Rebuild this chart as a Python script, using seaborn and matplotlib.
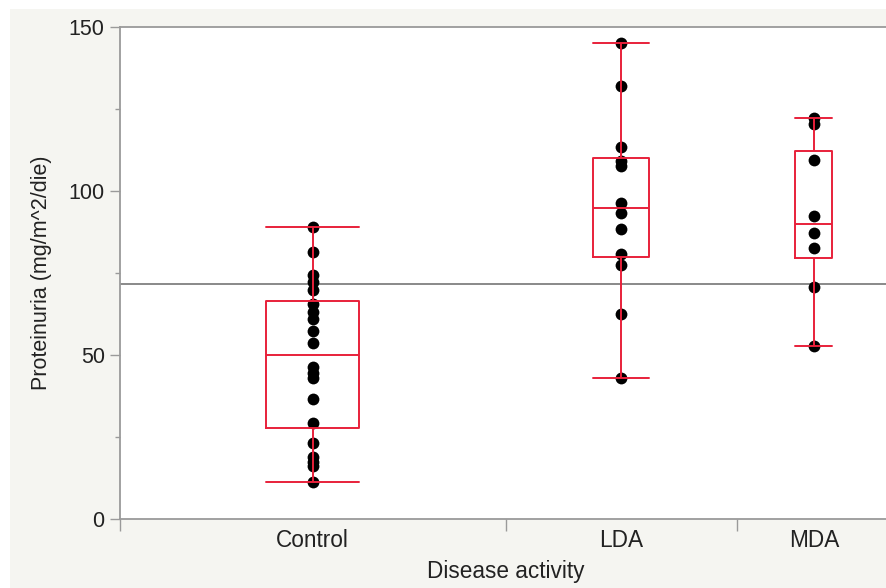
import numpy as np
import pandas as pd
import seaborn as sns
import matplotlib.pyplot as plt
from matplotlib.patches import Rectangle
from matplotlib.ticker import FixedLocator

# values (mg/m^2/die)
groups = ["Control", "LDA", "MDA"]
control = [89.1, 81.5, 74.4, 72.3, 69.8, 65.5, 63.2, 61.0, 57.3, 53.6,
           46.4, 44.6, 42.9, 36.5, 29.4, 23.2, 18.9, 17.5, 16.2, 11.2]
lda = [145.2, 132.0, 113.5, 109.0, 107.5, 96.2, 93.4, 88.3, 80.8, 77.4,
       62.5, 42.9]
mda = [122.2, 120.4, 109.5, 92.4, 87.3, 82.7, 70.8, 52.7]
y_ticks = [0, 50, 100, 150]
y_minor = [25, 75, 125]

RED = "#e8203a"
GREY = "#9a9a9a"
BG = "#f5f5f1"


def build_frame():
    # category width on the x axis is proportional to group size (JMP style)
    sizes = [len(control), len(lda), len(mda)]
    edges = np.concatenate([[0], np.cumsum(sizes)])
    centers = (edges[:-1] + edges[1:]) / 2
    rows = []
    for name, vals, pos in zip(groups, [control, lda, mda], centers):
        for v in vals:
            rows.append({"group": name, "pos": pos, "value": v})
    return pd.DataFrame(rows), edges, centers


def main():
    df, edges, centers = build_frame()

    sns.set_theme(style="white")
    plt.rcParams["font.family"] = ["Liberation Sans", "DejaVu Sans"]

    fig = plt.figure(figsize=(8.86, 5.88), dpi=100)
    fig.patch.set_facecolor("white")
    fig.patches.append(Rectangle((10 / 886, 0), 1, 1 - 9 / 588,
                                 transform=fig.transFigure, facecolor=BG,
                                 edgecolor="none", zorder=-10))
    ax = fig.add_axes([120 / 886, 69 / 588, 771 / 886, 492 / 588])
    ax.set_facecolor("white")

    sns.stripplot(data=df, x="pos", y="value", native_scale=True,
                  jitter=False, color="black", size=8.5, linewidth=0,
                  zorder=2, ax=ax)

    for name in groups:
        sub = df[df["group"] == name]
        w = 0.24 * len(sub)
        sns.boxplot(data=sub, x="pos", y="value", native_scale=True,
                    width=w, fill=False, color=RED, linewidth=1.4,
                    fliersize=0, capwidths=w, zorder=3, ax=ax)

    # grand mean line
    ax.axhline(df["value"].mean(), color="#808080", lw=1.3, zorder=1)

    ax.set_xlim(edges[0], edges[-1])
    ax.set_ylim(0, 150)

    ax.set_yticks(y_ticks)
    ax.yaxis.set_minor_locator(FixedLocator(y_minor))
    ax.set_xticks(edges)
    ax.set_xticklabels([])
    ax.set_xticks(centers, minor=True)
    ax.set_xticklabels(groups, minor=True)

    ax.tick_params(axis="y", which="major", left=True, length=7, width=1,
                   color=GREY, labelsize=15.5, labelcolor="#222222", pad=4)
    ax.tick_params(axis="y", which="minor", left=True, length=3.5, width=1,
                   color=GREY)
    ax.tick_params(axis="x", which="major", bottom=True, length=8.5, width=1,
                   color=GREY)
    ax.tick_params(axis="x", which="minor", bottom=True, length=0,
                   labelsize=16.3, labelcolor="#222222", pad=7)

    for side in ["left", "bottom", "top"]:
        ax.spines[side].set_color(GREY)
        ax.spines[side].set_linewidth(1.3)
        ax.spines[side].set_visible(True)
    ax.spines["right"].set_visible(False)

    ax.set_xlabel("Disease activity", fontsize=16.3, color="#222222",
                  labelpad=6)
    ax.set_ylabel("Proteinuria (mg/m^2/die)", fontsize=15.5, color="#222222",
                  labelpad=12)

    fig.savefig("out.png", dpi=100, facecolor=fig.get_facecolor())


if __name__ == "__main__":
    main()
